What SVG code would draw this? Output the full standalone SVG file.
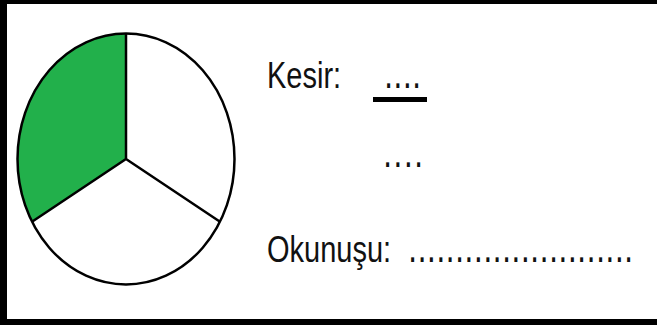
<svg xmlns="http://www.w3.org/2000/svg" width="657" height="327" viewBox="0 0 657 327">
<style>
.t{font-family:"Liberation Sans",Arial,sans-serif;font-size:29px;fill:#111;}
.d{font-family:"DejaVu Sans",Verdana,sans-serif;font-size:29px;fill:#111;}
.edge{stroke:#000;stroke-width:2.5;fill:none;stroke-linejoin:round;}
</style>
<rect x="0" y="0" width="657" height="327" fill="#fff"/>
<g id="frame">
<rect x="0" y="0" width="657" height="4" fill="#000"/>
<rect x="0" y="0" width="7" height="325" fill="#000"/>
<rect x="0" y="319" width="657" height="6" fill="#000"/>
</g>
<g id="pie">
<path d="M126,159 L126,33.5 A108.5,125.5 0 0 0 32,221.8 Z" fill="#22b04b"/>
<path d="M126,159 L126,33.5 A108.5,125.5 0 0 1 220,221.8 Z" fill="#fff"/>
<path d="M126,159 L220,221.8 A108.5,125.5 0 0 1 32,221.8 Z" fill="#fff"/>
<ellipse class="edge" cx="126" cy="159" rx="108.5" ry="125.5"/>
<path class="edge" d="M126,33.5 L126,159 M32,221.8 L126,159 L220,221.8"/>
</g>
<g id="kesir">
<text class="t" transform="translate(267,88) scale(1,1.3)">Kesir:</text>
<text class="d" transform="translate(384,88) scale(1,1.3)" textLength="37.3" lengthAdjust="spacing">....</text>
<rect x="373" y="97" width="54" height="5" fill="#000"/>
<text class="d" transform="translate(383,167) scale(1,1.3)" textLength="40.3" lengthAdjust="spacing">....</text>
</g>
<g id="okunusu">
<text class="t" transform="translate(267,262) scale(1,1.3)">Okunuşu:</text>
<text class="d" transform="translate(408,262) scale(1,1.3)" textLength="225.3" lengthAdjust="spacing">........................</text>
</g>
</svg>
